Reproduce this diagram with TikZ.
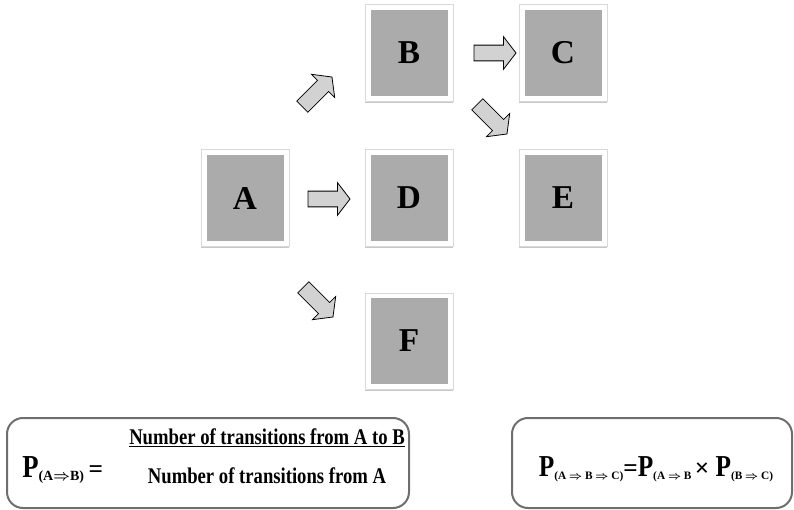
\documentclass[tikz,border=0pt]{standalone}
\usepackage{fontspec}
\setmainfont{Liberation Serif}
\usetikzlibrary{shapes.arrows}
\definecolor{boxgray}{HTML}{ABABAB}
\definecolor{arrowgray}{HTML}{D2D2D2}
\definecolor{framegray}{HTML}{6E6E6E}
\newcommand{\lowsub}[2][8.5]{\raisebox{-0.6ex}{\fontsize{#1}{10}\selectfont #2}}
\newcommand{\imp}{{\boldmath$\Rightarrow$}}
\newcommand{\tall}[1]{\scalebox{1}[1.2]{#1}}
\tikzset{
  statebox/.style={rectangle, fill=white, draw=black!15, line width=0.5pt,
    minimum width=65.75pt, minimum height=72.25pt, inner sep=0pt,
    font=\fontsize{25}{30}\selectfont\bfseries,
    preaction={fill=black!22, transform canvas={yshift=-1.4pt}},
    path picture={\fill[boxgray]
      ([xshift=4pt,yshift=-3.9pt]path picture bounding box.north west) rectangle
      ([xshift=-4pt,yshift=3.9pt]path picture bounding box.south east);}},
  flow/.style={single arrow, draw=black, line width=0.6pt, fill=arrowgray,
    minimum height=31.5pt, inner xsep=0pt, inner ysep=5.6pt,
    single arrow head extend=6.4pt, single arrow tip angle=105},
  formula/.style={draw=framegray, line width=1.5pt, rounded corners=12pt},
  eqtext/.style={font=\fontsize{14}{16}\selectfont\bfseries, inner sep=0pt}
}
\begin{document}
\begin{tikzpicture}[x=0.75pt,y=-0.75pt]
  \useasboundingbox (0,0) rectangle (794,510);

  % states
  \node[statebox] (A) at (245,198) {A};
  \node[statebox] (B) at (409,53) {B};
  \node[statebox] (C) at (563,53) {C};
  \node[statebox] (D) at (409,198) {D};
  \node[statebox] (E) at (563,198) {E};
  \node[statebox] (F) at (409,341) {F};

  % transitions
  \node[flow, rotate=45] (AtoB) at (315,94) {};
  \node[flow] (AtoD) at (326,199) {};
  \node[flow, rotate=-45] (AtoF) at (316,300) {};
  \node[flow] (BtoC) at (492,53) {};
  \node[flow, rotate=-45] (BtoE) at (490,117) {};

  % formulas
  \node[formula, minimum width=301.5pt, minimum height=67.5pt] (leftbox) at (208,463) {};
  \node[formula, minimum width=210pt, minimum height=67.5pt] (rightbox) at (652,463) {};

  \node[anchor=base west, font=\bfseries, inner sep=0pt] (pab) at (22,477)
    {\tall{\fontsize{20}{24}\selectfont P}\lowsub[10.5]{(A\imp B)}\,\,{\fontsize{19}{22}\selectfont =}};
  \node[eqtext, anchor=base] (num) at (267,444)
    {\underline{\tall{Number of transitions from A to B}}};
  \node[eqtext, anchor=base] (den) at (267,483)
    {\tall{Number of transitions from A}};
  \node[font=\bfseries, inner sep=0pt, anchor=base] (chain) at (656,476)
    {\tall{\fontsize{19}{22}\selectfont P}\lowsub{(A \imp{} B \imp{} C)}{\fontsize{19}{22}\selectfont =\tall{P}}\lowsub{(A \imp{} B}
     {\fontsize{19}{22}\selectfont × \tall{P}}\lowsub{(B \imp{} C)}};
\end{tikzpicture}
\end{document}
